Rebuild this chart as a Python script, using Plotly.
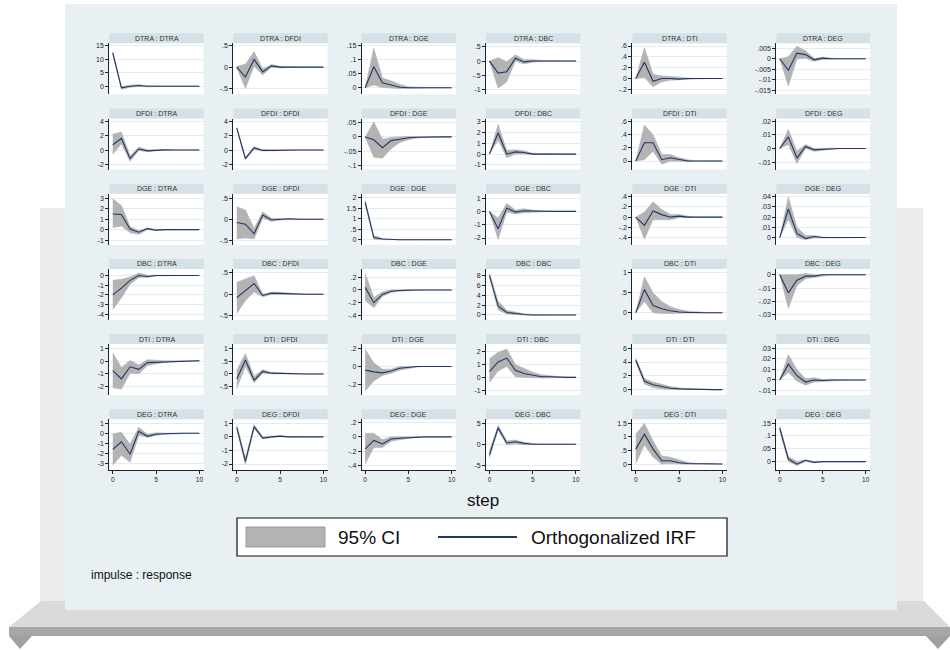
import plotly.graph_objects as go

# ---------------- DATA ----------------
STEPS = [0, 1, 2, 3, 4, 5, 6, 7, 8, 9, 10]
VARS = ["DTRA", "DFDI", "DGE", "DBC", "DTI", "DEG"]

# impulse DTRA
DTRA_DTRA_irf = [12.3, -0.6, 0.0, 0.3, 0.0, 0.1, 0.0, 0.0, 0.0, 0.0, 0.0]
DTRA_DTRA_lo = [11.8, -1.1, -0.4, -0.1, -0.2, -0.05, -0.05, -0.02, -0.01, 0.0, 0.0]
DTRA_DTRA_hi = [12.8, -0.1, 0.4, 0.6, 0.2, 0.2, 0.05, 0.02, 0.01, 0.0, 0.0]
DTRA_DFDI_irf = [0.0, -0.23, 0.18, -0.11, 0.03, 0.0, 0.0, 0.0, 0.0, 0.0, 0.0]
DTRA_DFDI_lo = [-0.02, -0.49, 0.02, -0.18, 0.0, -0.02, -0.01, 0.0, 0.0, 0.0, 0.0]
DTRA_DFDI_hi = [0.02, 0.07, 0.36, -0.04, 0.06, 0.02, 0.01, 0.0, 0.0, 0.0, 0.0]
DTRA_DGE_irf = [0.0, 0.075, 0.018, 0.009, 0.002, 0.0, 0.0, 0.0, 0.0, 0.0, 0.0]
DTRA_DGE_lo = [0.0, 0.01, 0.001, -0.002, -0.003, -0.002, -0.001, 0.0, 0.0, 0.0, 0.0]
DTRA_DGE_hi = [0.0, 0.14, 0.035, 0.025, 0.012, 0.004, 0.002, 0.001, 0.0, 0.0, 0.0]
DTRA_DBC_irf = [0.0, -0.42, -0.37, 0.1, -0.03, 0.0, 0.0, 0.0, 0.0, 0.0, 0.0]
DTRA_DBC_lo = [0.0, -0.95, -0.72, 0.0, -0.1, -0.04, -0.02, -0.01, 0.0, 0.0, 0.0]
DTRA_DBC_hi = [0.0, 0.12, -0.02, 0.22, 0.05, 0.05, 0.02, 0.01, 0.0, 0.0, 0.0]
DTRA_DTI_irf = [0.0, 0.3, -0.05, 0.0, 0.0, -0.01, 0.0, 0.0, 0.0, 0.0, 0.0]
DTRA_DTI_lo = [0.0, 0.02, -0.15, -0.06, -0.03, -0.02, -0.01, 0.0, 0.0, 0.0, 0.0]
DTRA_DTI_hi = [0.0, 0.57, 0.08, 0.05, 0.04, 0.02, 0.01, 0.0, 0.0, 0.0, 0.0]
DTRA_DEG_irf = [0.0, -0.0055, 0.0027, 0.002, -0.0005, 0.0003, 0.0, 0.0, 0.0, 0.0, 0.0]
DTRA_DEG_lo = [0.0, -0.013, -0.0001, 0.0002, -0.0012, -0.0003, -0.0002, 0.0, 0.0, 0.0, 0.0]
DTRA_DEG_hi = [0.0, 0.001, 0.006, 0.0038, 0.0002, 0.0008, 0.0003, 0.0, 0.0, 0.0, 0.0]

# impulse DFDI
DFDI_DTRA_irf = [0.75, 1.65, -1.2, 0.15, -0.12, 0.0, 0.02, 0.0, 0.0, 0.0, 0.0]
DFDI_DTRA_lo = [-0.6, 0.9, -1.6, -0.05, -0.25, -0.08, -0.03, 0.0, 0.0, 0.0, 0.0]
DFDI_DTRA_hi = [2.25, 2.55, -0.8, 0.45, 0.05, 0.1, 0.06, 0.02, 0.0, 0.0, 0.0]
DFDI_DFDI_irf = [3.1, -1.2, 0.3, -0.05, -0.05, 0.0, 0.0, 0.0, 0.0, 0.0, 0.0]
DFDI_DFDI_lo = [2.95, -1.4, 0.1, -0.15, -0.12, -0.05, -0.02, 0.0, 0.0, 0.0, 0.0]
DFDI_DFDI_hi = [3.25, -1.0, 0.5, 0.05, 0.02, 0.05, 0.02, 0.0, 0.0, 0.0, 0.0]
DFDI_DGE_irf = [0.0, -0.01, -0.038, -0.013, -0.008, -0.003, -0.001, 0.0, 0.0, 0.0, 0.0]
DFDI_DGE_lo = [0.0, -0.072, -0.075, -0.042, -0.02, -0.01, -0.004, -0.001, 0.0, 0.0, 0.0]
DFDI_DGE_hi = [0.0, 0.053, -0.008, -0.002, 0.0, 0.002, 0.001, 0.0, 0.0, 0.0, 0.0]
DFDI_DBC_irf = [0.0, 1.95, 0.0, 0.2, 0.15, 0.0, 0.0, 0.0, 0.0, 0.0, 0.0]
DFDI_DBC_lo = [0.0, 1.3, -0.35, 0.0, 0.0, -0.05, -0.03, 0.0, 0.0, 0.0, 0.0]
DFDI_DBC_hi = [0.0, 2.75, 0.35, 0.4, 0.3, 0.08, 0.04, 0.01, 0.0, 0.0, 0.0]
DFDI_DTI_irf = [0.0, 0.28, 0.28, 0.02, 0.05, 0.02, 0.0, 0.0, 0.0, 0.0, 0.0]
DFDI_DTI_lo = [0.0, 0.02, 0.15, -0.05, 0.0, -0.01, -0.01, 0.0, 0.0, 0.0, 0.0]
DFDI_DTI_hi = [0.0, 0.55, 0.4, 0.1, 0.1, 0.05, 0.02, 0.0, 0.0, 0.0, 0.0]
DFDI_DEG_irf = [0.0, 0.0085, -0.007, 0.0015, -0.001, -0.0005, 0.0, 0.0, 0.0, 0.0, 0.0]
DFDI_DEG_lo = [0.0, 0.003, -0.011, 0.0, -0.002, -0.001, -0.0004, 0.0, 0.0, 0.0, 0.0]
DFDI_DEG_hi = [0.0, 0.014, -0.002, 0.003, 0.0, 0.0002, 0.0003, 0.0, 0.0, 0.0, 0.0]

# impulse DGE
DGE_DTRA_irf = [1.5, 1.45, 0.05, -0.25, 0.1, -0.05, 0.0, 0.0, 0.0, 0.0, 0.0]
DGE_DTRA_lo = [0.2, 0.35, -0.3, -0.45, 0.0, -0.1, -0.03, 0.0, 0.0, 0.0, 0.0]
DGE_DTRA_hi = [2.95, 2.3, 0.3, -0.1, 0.18, 0.02, 0.02, 0.0, 0.0, 0.0, 0.0]
DGE_DFDI_irf = [-0.08, -0.12, -0.35, 0.1, -0.02, 0.0, 0.01, 0.0, 0.0, 0.0, 0.0]
DGE_DFDI_lo = [-0.47, -0.45, -0.47, 0.03, -0.05, -0.02, -0.01, 0.0, 0.0, 0.0, 0.0]
DGE_DFDI_hi = [0.3, 0.22, -0.22, 0.18, 0.02, 0.02, 0.02, 0.01, 0.0, 0.0, 0.0]
DGE_DGE_irf = [1.8, 0.1, 0.03, 0.0, 0.0, 0.0, 0.0, 0.0, 0.0, 0.0, 0.0]
DGE_DGE_lo = [1.7, 0.02, 0.0, -0.01, 0.0, 0.0, 0.0, 0.0, 0.0, 0.0, 0.0]
DGE_DGE_hi = [1.9, 0.2, 0.06, 0.01, 0.0, 0.0, 0.0, 0.0, 0.0, 0.0, 0.0]
DGE_DBC_irf = [0.0, -1.3, 0.25, -0.05, 0.05, 0.02, 0.0, 0.0, 0.0, 0.0, 0.0]
DGE_DBC_lo = [0.0, -2.1, -0.05, -0.2, -0.1, -0.05, -0.03, 0.0, 0.0, 0.0, 0.0]
DGE_DBC_hi = [0.0, -0.5, 0.6, 0.1, 0.2, 0.08, 0.03, 0.0, 0.0, 0.0, 0.0]
DGE_DTI_irf = [0.0, -0.16, 0.12, 0.05, 0.0, 0.02, 0.0, 0.0, 0.0, 0.0, 0.0]
DGE_DTI_lo = [0.0, -0.43, -0.05, -0.05, -0.05, -0.01, -0.01, 0.0, 0.0, 0.0, 0.0]
DGE_DTI_hi = [0.0, 0.1, 0.3, 0.15, 0.05, 0.05, 0.02, 0.0, 0.0, 0.0, 0.0]
DGE_DEG_irf = [0.0, 0.028, 0.004, -0.001, 0.001, 0.0, 0.0, 0.0, 0.0, 0.0, 0.0]
DGE_DEG_lo = [0.0, 0.018, 0.0, -0.002, -0.0005, -0.0005, 0.0, 0.0, 0.0, 0.0, 0.0]
DGE_DEG_hi = [0.0, 0.04, 0.01, 0.002, 0.002, 0.0005, 0.0, 0.0, 0.0, 0.0, 0.0]

# impulse DBC
DBC_DTRA_irf = [-2.0, -1.3, -0.5, 0.0, -0.1, 0.0, 0.0, 0.0, 0.0, 0.0, 0.0]
DBC_DTRA_lo = [-3.5, -2.3, -0.9, -0.2, -0.2, -0.05, -0.03, 0.0, 0.0, 0.0, 0.0]
DBC_DTRA_hi = [-0.5, -0.4, -0.15, 0.25, 0.02, 0.05, 0.03, 0.02, 0.02, 0.02, 0.0]
DBC_DFDI_irf = [-0.08, 0.08, 0.25, -0.03, 0.02, 0.02, 0.01, 0.0, 0.0, 0.0, 0.0]
DBC_DFDI_lo = [-0.45, -0.15, 0.05, -0.06, -0.01, -0.01, -0.01, -0.01, 0.0, 0.0, 0.0]
DBC_DFDI_hi = [0.28, 0.35, 0.43, 0.0, 0.05, 0.04, 0.02, 0.01, 0.0, 0.0, 0.0]
DBC_DGE_irf = [0.04, -0.2, -0.07, -0.02, -0.01, 0.0, 0.0, 0.0, 0.0, 0.0, 0.0]
DBC_DGE_lo = [-0.16, -0.28, -0.1, -0.04, -0.02, -0.01, 0.0, 0.0, 0.0, 0.0, 0.0]
DBC_DGE_hi = [0.26, -0.12, -0.03, 0.0, 0.0, 0.01, 0.0, 0.0, 0.0, 0.0, 0.0]
DBC_DBC_irf = [8.0, 1.8, 0.5, 0.25, 0.1, 0.0, 0.0, 0.0, 0.0, 0.0, 0.0]
DBC_DBC_lo = [7.6, 1.0, 0.2, 0.05, 0.0, -0.05, 0.0, 0.0, 0.0, 0.0, 0.0]
DBC_DBC_hi = [8.4, 2.8, 0.9, 0.5, 0.25, 0.1, 0.05, 0.0, 0.0, 0.0, 0.0]
DBC_DTI_irf = [0.0, 0.58, 0.18, 0.1, 0.05, 0.02, 0.01, 0.0, 0.0, 0.0, 0.0]
DBC_DTI_lo = [0.0, 0.28, 0.0, -0.02, -0.02, -0.01, -0.01, 0.0, 0.0, 0.0, 0.0]
DBC_DTI_hi = [0.0, 0.9, 0.5, 0.28, 0.15, 0.08, 0.04, 0.02, 0.01, 0.0, 0.0]
DBC_DEG_irf = [0.0, -0.0135, -0.004, -0.001, -0.001, 0.0, 0.0, 0.0, 0.0, 0.0, 0.0]
DBC_DEG_lo = [0.0, -0.025, -0.008, -0.003, -0.002, -0.001, 0.0, 0.0, 0.0, 0.0, 0.0]
DBC_DEG_hi = [0.0, 0.0, 0.0, 0.001, 0.0, 0.0, 0.0, 0.0, 0.0, 0.0, 0.0]

# impulse DTI
DTI_DTRA_irf = [-0.75, -1.4, -0.45, -0.65, -0.12, -0.1, -0.05, 0.0, 0.0, 0.01, 0.02]
DTI_DTRA_lo = [-2.1, -2.2, -0.95, -1.0, -0.35, -0.2, -0.1, -0.05, -0.02, -0.01, 0.0]
DTI_DTRA_hi = [0.65, -0.5, 0.05, -0.3, 0.1, 0.05, 0.02, 0.02, 0.03, 0.04, 0.05]
DTI_DFDI_irf = [-0.2, 0.55, -0.25, 0.1, 0.03, 0.02, 0.0, 0.0, 0.0, 0.0, 0.0]
DTI_DFDI_lo = [-0.57, 0.3, -0.35, 0.03, 0.0, -0.01, -0.01, 0.0, 0.0, 0.0, 0.0]
DTI_DFDI_hi = [0.15, 0.8, -0.1, 0.17, 0.06, 0.04, 0.02, 0.0, 0.0, 0.0, 0.0]
DTI_DGE_irf = [-0.04, -0.06, -0.07, -0.05, -0.02, -0.01, 0.0, 0.0, 0.0, 0.0, 0.0]
DTI_DGE_lo = [-0.27, -0.16, -0.1, -0.075, -0.04, -0.02, -0.005, 0.0, 0.0, 0.0, 0.0]
DTI_DGE_hi = [0.19, 0.04, -0.03, -0.03, 0.0, 0.0, 0.005, 0.0, 0.0, 0.0, 0.0]
DTI_DBC_irf = [0.45, 1.2, 1.5, 0.55, 0.3, 0.15, 0.05, 0.05, 0.0, 0.0, 0.0]
DTI_DBC_lo = [-0.4, 0.5, 0.85, 0.05, 0.0, -0.05, -0.05, -0.03, -0.03, -0.03, -0.03]
DTI_DBC_hi = [1.45, 1.95, 2.2, 1.0, 0.7, 0.4, 0.2, 0.12, 0.05, 0.03, 0.02]
DTI_DTI_irf = [4.3, 1.2, 0.7, 0.4, 0.2, 0.1, 0.05, 0.02, 0.01, 0.0, 0.0]
DTI_DTI_lo = [4.0, 0.8, 0.3, 0.1, 0.02, 0.0, -0.02, -0.02, -0.01, -0.01, 0.0]
DTI_DTI_hi = [4.6, 1.6, 1.1, 0.75, 0.45, 0.25, 0.12, 0.06, 0.03, 0.01, 0.01]
DTI_DEG_irf = [0.0, 0.015, 0.004, -0.002, 0.0, -0.0005, 0.0, 0.0, 0.0, 0.0, 0.0]
DTI_DEG_lo = [0.0, 0.007, -0.001, -0.005, -0.002, -0.0015, -0.0005, 0.0, 0.0, 0.0, 0.0]
DTI_DEG_hi = [0.0, 0.024, 0.01, 0.001, 0.002, 0.0005, 0.0005, 0.0, 0.0, 0.0, 0.0]

# impulse DEG
DEG_DTRA_irf = [-1.6, -0.85, -2.1, 0.2, -0.3, -0.1, -0.05, 0.0, 0.0, 0.0, 0.0]
DEG_DTRA_lo = [-3.2, -2.2, -2.9, -0.2, -0.4, -0.2, -0.1, -0.05, -0.02, 0.0, 0.0]
DEG_DTRA_hi = [-0.05, 0.1, -1.1, 0.6, -0.1, 0.05, 0.02, 0.02, 0.01, 0.0, 0.0]
DEG_DFDI_irf = [0.7, -1.8, 0.75, -0.1, 0.0, 0.05, 0.0, 0.0, 0.0, 0.0, 0.0]
DEG_DFDI_lo = [0.55, -2.05, 0.6, -0.15, -0.05, 0.0, -0.02, 0.0, 0.0, 0.0, 0.0]
DEG_DFDI_hi = [0.9, -1.55, 0.9, 0.0, 0.05, 0.08, 0.02, 0.0, 0.0, 0.0, 0.0]
DEG_DGE_irf = [-0.17, -0.05, -0.1, -0.03, -0.02, -0.01, 0.0, 0.0, 0.0, 0.0, 0.0]
DEG_DGE_lo = [-0.38, -0.15, -0.15, -0.06, -0.04, -0.02, -0.005, 0.0, 0.0, 0.0, 0.0]
DEG_DGE_hi = [0.05, 0.05, -0.04, 0.0, 0.0, 0.0, 0.005, 0.0, 0.0, 0.0, 0.0]
DEG_DBC_irf = [-2.5, 3.9, 0.3, 0.6, 0.2, 0.0, 0.0, 0.0, 0.0, 0.0, 0.0]
DEG_DBC_lo = [-3.3, 3.4, -0.2, 0.1, -0.1, -0.1, -0.05, 0.0, 0.0, 0.0, 0.0]
DEG_DBC_hi = [-1.6, 4.5, 0.8, 1.0, 0.5, 0.15, 0.08, 0.05, 0.0, 0.0, 0.0]
DEG_DTI_irf = [0.55, 1.1, 0.55, 0.12, 0.12, 0.05, 0.02, 0.01, 0.0, 0.0, 0.0]
DEG_DTI_lo = [0.02, 0.7, 0.25, 0.0, 0.02, 0.0, -0.01, -0.01, 0.0, 0.0, 0.0]
DEG_DTI_hi = [1.1, 1.5, 0.85, 0.3, 0.25, 0.15, 0.06, 0.03, 0.01, 0.01, 0.0]
DEG_DEG_irf = [0.13, 0.01, -0.01, 0.005, -0.003, 0.0, 0.0, 0.0, 0.0, 0.0, 0.0]
DEG_DEG_lo = [0.12, 0.0, -0.015, 0.0, -0.005, -0.001, 0.0, 0.0, 0.0, 0.0, 0.0]
DEG_DEG_hi = [0.14, 0.02, 0.0, 0.007, 0.0, 0.001, 0.0, 0.0, 0.0, 0.0, 0.0]

# y tick values per impulse row (one list per response column)
YTICKS_DTRA = [[0, 5, 10, 15], [-0.5, 0, 0.5], [0, 0.05, 0.1, 0.15], [-1, -0.5, 0, 0.5],
               [-0.2, 0, 0.2, 0.4, 0.6], [-0.015, -0.01, -0.005, 0, 0.005]]
YTICKS_DFDI = [[-2, 0, 2, 4], [-2, 0, 2, 4], [-0.1, -0.05, 0, 0.05], [-1, 0, 1, 2, 3],
               [0, 0.2, 0.4, 0.6], [-0.01, 0, 0.01, 0.02]]
YTICKS_DGE = [[-1, 0, 1, 2, 3], [-0.5, 0, 0.5], [0, 0.5, 1, 1.5, 2], [-2, -1, 0, 1],
              [-0.4, -0.2, 0, 0.2, 0.4], [0, 0.01, 0.02, 0.03, 0.04]]
YTICKS_DBC = [[-4, -3, -2, -1, 0], [-0.5, 0, 0.5], [-0.4, -0.2, 0, 0.2], [0, 2, 4, 6, 8],
              [0, 0.5, 1], [-0.03, -0.02, -0.01, 0]]
YTICKS_DTI = [[-2, -1, 0, 1], [-0.5, 0, 0.5, 1], [-0.2, 0, 0.2], [-1, 0, 1, 2],
              [0, 2, 4, 6], [-0.01, 0, 0.01, 0.02, 0.03]]
YTICKS_DEG = [[-3, -2, -1, 0, 1], [-2, -1, 0, 1], [-0.4, -0.2, 0, 0.2], [-5, 0, 5],
              [0, 0.5, 1, 1.5], [0, 0.05, 0.1, 0.15]]
XTICKS = [0, 5, 10]

LEGEND_CI = "95% CI"
LEGEND_IRF = "Orthogonalized IRF"
X_TITLE = "step"
NOTE = "impulse : response"

# ---------------- LAYOUT / STYLE ----------------
W, H = 950, 650
FONT = "Liberation Sans, Arial, sans-serif"
C_PANEL = "#e9f0f3"
C_STRIP = "#d5e1e7"
C_GRID = "#e4ecef"
C_CI = "#b3b3b3"
C_LINE = "#1f3868"

# y-axis ranges (axis extents)
YRANGES = {
    "DTRA": [[-2.97, 15.87], [-0.63, 0.554], [-0.023, 0.158], [-1.16, 0.62], [-0.29, 0.65], [-0.017, 0.0074]],
    "DFDI": [[-2.76, 4.48], [-2.76, 4.48], [-0.115, 0.065], [-1.43, 3.3], [-0.13, 0.65], [-0.0154, 0.022]],
    "DGE": [[-1.44, 3.44], [-0.61, 0.61], [-0.24, 2.2], [-2.5, 1.33], [-0.54, 0.46], [-0.007, 0.043]],
    "DBC": [[-4.58, 0.68], [-0.6, 0.59], [-0.47, 0.33], [-1.0, 9.3], [-0.18, 1.1], [-0.0337, 0.0044]],
    "DTI": [[-2.67, 1.33], [-0.83, 1.17], [-0.316, 0.247], [-1.38, 2.59], [-0.8, 6.6], [-0.0144, 0.034]],
    "DEG": [[-3.7, 1.4], [-2.46, 1.29], [-0.47, 0.247], [-6.2, 5.94], [-0.23, 1.65], [-0.034, 0.165]],
}
XRANGE = [-0.4, 10.5]

COL_X = [(109.3, 203.7), (233.3, 327.7), (361.7, 456.0), (486.0, 580.3), (632.3, 726.7), (776.3, 870.0)]
ROW_TOP0, ROW_STEP, STRIP_H, PANEL_H = 33.3, 75.2, 10.0, 61.0

g = globals()
YTICKS = {v: g["YTICKS_" + v] for v in VARS}


def px(x):
    return x / W


def py(y):
    return 1 - y / H


def fmt(v):
    s = f"{v:g}"
    if s.startswith("0."):
        s = s[1:]
    elif s.startswith("-0."):
        s = "-" + s[2:]
    return s


fig = go.Figure()
shapes = []
annotations = []


def poly(points, color):
    path = "M " + " L ".join(f"{px(a)},{py(b)}" for a, b in points) + " Z"
    return dict(type="path", xref="paper", yref="paper", path=path,
                fillcolor=color, line=dict(width=0), layer="below")


# decorative frame
shapes.append(poly([(40, 208), (66, 208), (66, 606), (40, 606)], "#ececec"))
shapes.append(poly([(896, 208), (923, 208), (923, 606), (896, 606)], "#ececec"))
shapes.append(poly([(41, 601), (924, 601), (950, 627), (9, 627)], "#dadada"))
shapes.append(poly([(9, 627), (950, 627), (950, 636), (9, 636)], "#a6a6a6"))
shapes.append(poly([(9, 636), (32, 636), (20, 649)], "#a0a0a0"))
shapes.append(poly([(926, 636), (950, 636), (938, 649)], "#a0a0a0"))
shapes.append(dict(type="rect", xref="paper", yref="paper", x0=px(65), x1=px(897),
                   y0=py(610), y1=py(4), fillcolor=C_PANEL, line=dict(width=0), layer="below"))

n = 0
for r, imp in enumerate(VARS):
    top = ROW_TOP0 + ROW_STEP * r
    sb = top + STRIP_H
    bot = top + PANEL_H
    for c, resp in enumerate(VARS):
        n += 1
        x0, x1 = COL_X[c]
        key = f"{imp}_{resp}"
        irf, lo, hi = g[key + "_irf"], g[key + "_lo"], g[key + "_hi"]
        xa, ya = f"x{n}", f"y{n}"
        fig.add_trace(go.Scatter(x=STEPS, y=lo, xaxis=xa, yaxis=ya, mode="lines",
                                 line=dict(color=C_CI, width=0.6), showlegend=False, hoverinfo="skip"))
        fig.add_trace(go.Scatter(x=STEPS, y=hi, xaxis=xa, yaxis=ya, mode="lines", fill="tonexty",
                                 fillcolor=C_CI, line=dict(color=C_CI, width=0.6),
                                 showlegend=False, hoverinfo="skip"))
        fig.add_trace(go.Scatter(x=STEPS, y=irf, xaxis=xa, yaxis=ya, mode="lines",
                                 line=dict(color=C_LINE, width=1.1), showlegend=False))
        sfx = "" if n == 1 else str(n)
        ticks = YTICKS[imp][c]
        fig.layout["yaxis" + sfx] = dict(
            domain=[py(bot), py(sb)], anchor=xa, range=YRANGES[imp][c], autorange=False,
            tickvals=ticks, ticktext=[fmt(t) for t in ticks],
            showgrid=True, gridcolor=C_GRID, gridwidth=1, zeroline=False,
            showline=True, linecolor="#222", linewidth=1,
            ticks="outside", ticklen=3, tickwidth=1, tickcolor="#222",
            tickfont=dict(size=7, color="#222", family=FONT), fixedrange=True)
        bottom = r == len(VARS) - 1
        fig.layout["xaxis" + sfx] = dict(
            domain=[px(x0), px(x1)], anchor=ya, range=XRANGE, autorange=False,
            showgrid=False, zeroline=False, showline=bottom, linecolor="#222", linewidth=1,
            tickvals=XTICKS, ticktext=[str(t) for t in XTICKS],
            ticks="outside" if bottom else "", ticklen=3, tickcolor="#222",
            showticklabels=bottom, tickfont=dict(size=6.5, color="#222", family=FONT),
            fixedrange=True)
        shapes.append(dict(type="rect", xref="paper", yref="paper", x0=px(x0), x1=px(x1),
                           y0=py(bot), y1=py(sb), fillcolor="white", line=dict(width=0), layer="below"))
        shapes.append(dict(type="rect", xref="paper", yref="paper", x0=px(x0), x1=px(x1),
                           y0=py(sb), y1=py(top), fillcolor=C_STRIP, line=dict(width=0), layer="below"))
        annotations.append(dict(xref="paper", yref="paper", x=px((x0 + x1) / 2), y=py(top + STRIP_H / 2),
                                text=f"{imp} : {resp}", showarrow=False, xanchor="center", yanchor="middle",
                                font=dict(size=7, color="#333", family=FONT)))

annotations.append(dict(xref="paper", yref="paper", x=px(483), y=py(500), text=X_TITLE, showarrow=False,
                        xanchor="center", yanchor="middle", font=dict(size=17, color="#111", family=FONT)))
shapes.append(dict(type="rect", xref="paper", yref="paper", x0=px(237), x1=px(727), y0=py(556), y1=py(518),
                   fillcolor="white", line=dict(color="#111", width=1.2)))
shapes.append(dict(type="rect", xref="paper", yref="paper", x0=px(246), x1=px(325), y0=py(547), y1=py(527),
                   fillcolor=C_CI, line=dict(color="#999", width=1)))
shapes.append(dict(type="line", xref="paper", yref="paper", x0=px(438), x1=px(517), y0=py(537), y1=py(537),
                   line=dict(color=C_LINE, width=2)))
annotations.append(dict(xref="paper", yref="paper", x=px(336), y=py(537.5), text=LEGEND_CI, showarrow=False,
                        xanchor="left", yanchor="middle", font=dict(size=19, color="#111", family=FONT)))
annotations.append(dict(xref="paper", yref="paper", x=px(529), y=py(537.5), text=LEGEND_IRF, showarrow=False,
                        xanchor="left", yanchor="middle", font=dict(size=19, color="#111", family=FONT)))
annotations.append(dict(xref="paper", yref="paper", x=px(89), y=py(575), text=NOTE, showarrow=False,
                        xanchor="left", yanchor="middle", font=dict(size=12, color="#111", family=FONT)))

fig.update_layout(width=W, height=H, margin=dict(l=0, r=0, t=0, b=0),
                  paper_bgcolor="white", plot_bgcolor="rgba(0,0,0,0)",
                  shapes=shapes, annotations=annotations, showlegend=False,
                  font=dict(family=FONT))

fig.write_html("out.html", config={"displayModeBar": False},
               post_script="document.body.style.margin='0';document.body.style.overflow='hidden';")
